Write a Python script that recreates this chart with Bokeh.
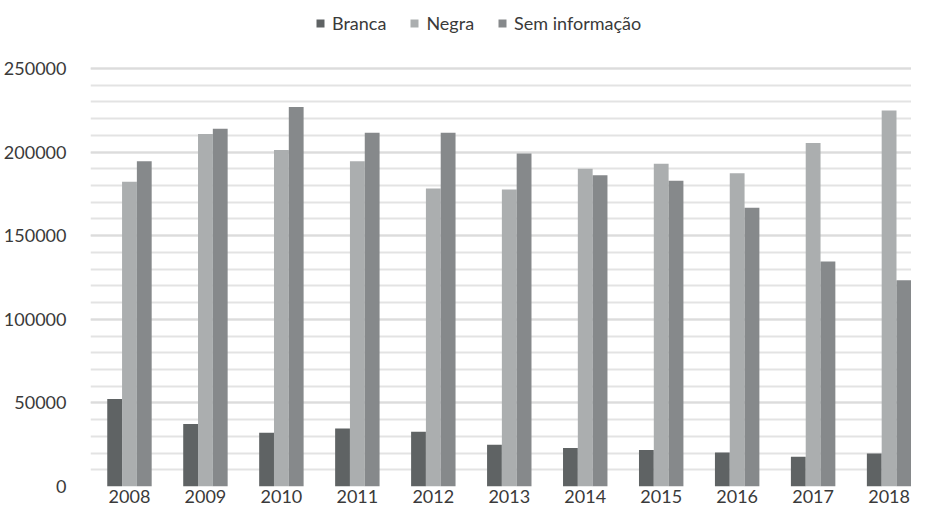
from bokeh.plotting import figure
from bokeh.models import (ColumnDataSource, Range1d, FixedTicker,
                          NumeralTickFormatter, Legend, LegendItem)
from bokeh.transform import dodge
from bokeh.embed import file_html
from bokeh.resources import INLINE

years = ["2008", "2009", "2010", "2011", "2012", "2013", "2014", "2015", "2016", "2017", "2018"]
branca = [52300, 37400, 32200, 34700, 32800, 24900, 23100, 21800, 20400, 17800, 19800]
negra = [182200, 210800, 201200, 194500, 178200, 177600, 190000, 193100, 187400, 205500, 224900]
sem_info = [194500, 213900, 226900, 211600, 211600, 199200, 186100, 182900, 166700, 134500, 123300]

y_ticks = [0, 50000, 100000, 150000, 200000, 250000]
y_minor = list(range(0, 250001, 10000))

series_names = ["Branca", "Negra", "Sem informação"]
colors = ["#5f6364", "#abaeaf", "#86898b"]

idx = list(range(len(years)))
src = ColumnDataSource(dict(x=idx, branca=branca, negra=negra, sem=sem_info))

FONT = "Lato"
TXT = "#3a3a3a"
BW = 0.195

p = figure(width=911, height=511, output_backend="svg", toolbar_location=None,
           x_range=Range1d(-0.513, 10.295), y_range=Range1d(0, 290670),
           min_border_left=90, min_border_right=0, min_border_top=0, min_border_bottom=25)
p.outline_line_color = None
p.background_fill_color = "white"
p.border_fill_color = "white"

rends = []
for col, off, c in zip(["branca", "negra", "sem"], [-BW, 0, BW], colors):
    r = p.vbar(x=dodge("x", off, range=p.x_range), top=col, width=BW, source=src,
               fill_color=c, line_color=None)
    rends.append(r)

# axes
p.xaxis.ticker = FixedTicker(ticks=idx)
p.xaxis.major_label_overrides = {i: y for i, y in zip(idx, years)}
p.xaxis.axis_line_color = None
p.xaxis.major_tick_line_color = None
p.xaxis.minor_tick_line_color = None
p.xaxis.major_tick_out = 0
p.xaxis.major_tick_in = 0
p.xaxis.major_label_standoff = 3
p.xaxis.major_label_text_font = FONT
p.xaxis.major_label_text_font_size = "18px"
p.xaxis.major_label_text_color = TXT

p.yaxis.ticker = FixedTicker(ticks=y_ticks, minor_ticks=y_minor)
p.yaxis.formatter = NumeralTickFormatter(format="0")
p.yaxis.axis_line_color = None
p.yaxis.major_tick_line_color = None
p.yaxis.minor_tick_line_color = None
p.yaxis.major_tick_out = 0
p.yaxis.major_tick_in = 0
p.yaxis.major_label_standoff = 20
p.yaxis.major_label_text_font = FONT
p.yaxis.major_label_text_font_size = "18px"
p.yaxis.major_label_text_color = TXT

p.xgrid.grid_line_color = None
p.ygrid.grid_line_color = "#dcdcdc"
p.ygrid.grid_line_width = 2
p.ygrid.minor_grid_line_color = "#e3e3e3"
p.ygrid.minor_grid_line_width = 2
p.ygrid.level = "underlay"

legend = Legend(items=[LegendItem(label=n, renderers=[r]) for n, r in zip(series_names, rends)],
                location=(225, 452), orientation="horizontal")
legend.label_text_font = FONT
legend.label_text_font_size = "18px"
legend.label_text_color = TXT
legend.glyph_width = 10
legend.glyph_height = 10
legend.label_standoff = 7
legend.spacing = 23
legend.padding = 0
legend.margin = 0
legend.label_height = 20
legend.border_line_color = None
legend.background_fill_alpha = 0
p.add_layout(legend, "center")

open("out.html", "w").write(file_html(p, INLINE))
